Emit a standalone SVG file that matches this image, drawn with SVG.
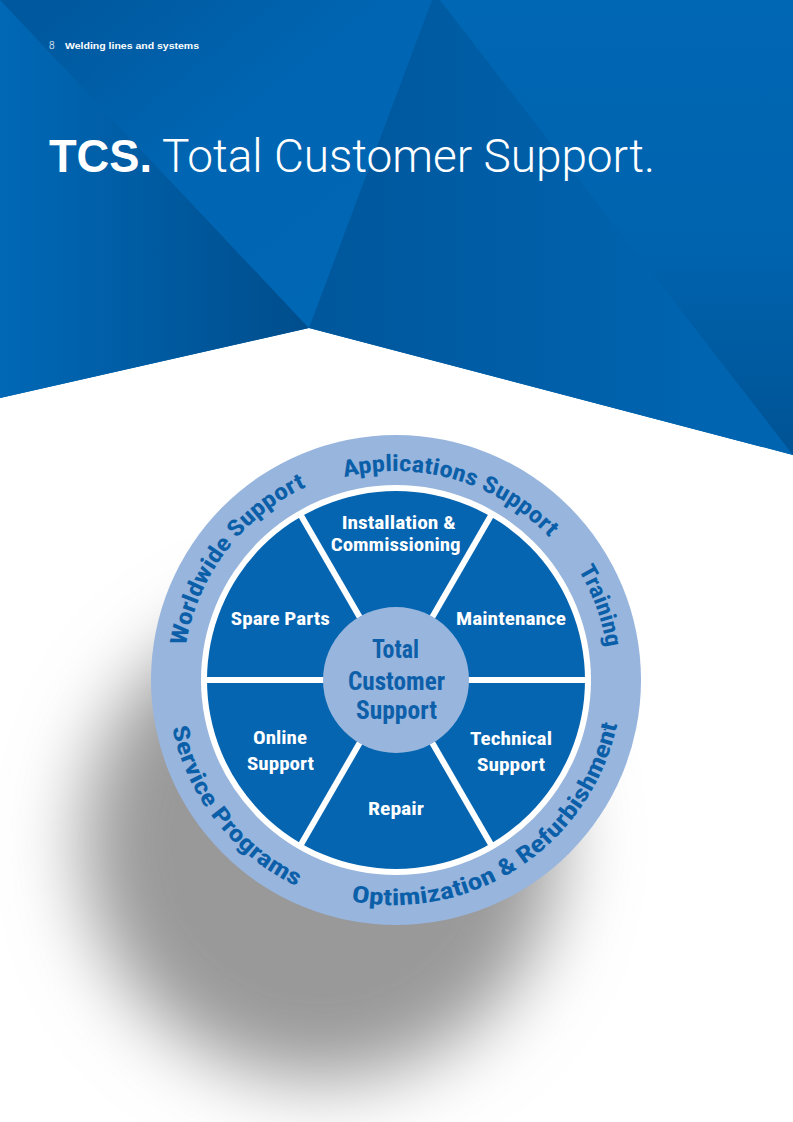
<svg xmlns="http://www.w3.org/2000/svg" width="793" height="1122" viewBox="0 0 793 1122">
  <defs>
    <linearGradient id="gL" x1="0" y1="0" x2="300" y2="0" gradientUnits="userSpaceOnUse">
      <stop offset="0" stop-color="#0068b6"/>
      <stop offset="1" stop-color="#004e8d"/>
    </linearGradient>
    <linearGradient id="gM" x1="80" y1="0" x2="320" y2="300" gradientUnits="userSpaceOnUse">
      <stop offset="0" stop-color="#00599f"/>
      <stop offset="0.5" stop-color="#0065b2"/>
      <stop offset="1" stop-color="#0067b5"/>
    </linearGradient>
    <linearGradient id="gR1" x1="320" y1="0" x2="700" y2="0" gradientUnits="userSpaceOnUse">
      <stop offset="0" stop-color="#00579c"/>
      <stop offset="1" stop-color="#0064b0"/>
    </linearGradient>
    <linearGradient id="gR2" x1="0" y1="0" x2="0" y2="455" gradientUnits="userSpaceOnUse">
      <stop offset="0" stop-color="#0067b4"/>
      <stop offset="0.55" stop-color="#0063ae"/>
      <stop offset="1" stop-color="#005394"/>
    </linearGradient>
    <filter id="blur" x="-50%" y="-50%" width="200%" height="200%">
      <feGaussianBlur stdDeviation="38"/>
    </filter>
    <path id="pApp" d="M191.7,619.9 A213,213 0 0 1 600.3,740.1"/>
    <path id="pTrain" d="M323.5,479.7 A213,213 0 0 1 468.5,880.3"/>
    <path id="pWorld" d="M267.5,849.9 A213,213 0 0 1 524.5,510.1"/>
    <path id="pServ" d="M254.4,500 A229,229 0 0 0 537.6,860"/>
    <path id="pOpt" d="M205.3,806.7 A229,229 0 0 0 586.7,553.3"/>
  </defs>
  <style>
    .sec { font-family: 'Liberation Sans Narrow', 'Roboto Condensed', 'Liberation Sans', Arial, sans-serif; font-weight: bold; font-size: 19px; fill: #ffffff; text-anchor: middle; }
    .ctr { font-family: 'Liberation Sans Narrow', 'Roboto Condensed', 'Liberation Sans', Arial, sans-serif; font-weight: bold; font-size: 25px; fill: #0d5fa9; text-anchor: middle; }
    .ring { font-family: 'Liberation Sans Narrow', 'Roboto Condensed', 'Liberation Sans', Arial, sans-serif; font-weight: bold; font-size: 23px; fill: #0b5fa9; }
    .div { stroke: #ffffff; stroke-width: 6; }
  </style>

  <!-- background -->
  <rect x="0" y="0" width="793" height="1122" fill="#ffffff"/>
  <g id="background">
    <polygon points="0,0 793,0 793,455 309,328 0,398" fill="#0065b1"/>
    <polygon points="0,0 0,398 309,328" fill="url(#gL)"/>
    <polygon points="0,0 309,328 432,0" fill="url(#gM)"/>
    <polygon points="432,0 440,0 793,455 309,328" fill="url(#gR1)"/>
    <polygon points="440,0 793,0 793,455" fill="url(#gR2)"/>
  </g>

  <!-- header -->
  <g id="header">
    <text x="49" y="49" font-family="Roboto, 'Liberation Sans', sans-serif" font-weight="300" font-size="10" fill="#ffffff">8</text>
    <text x="65" y="48.5" font-family="'Liberation Sans', Arial, sans-serif" font-weight="bold" font-size="8.6" fill="#ffffff" textLength="134" lengthAdjust="spacingAndGlyphs">Welding lines and systems</text>
    <text x="49" y="172" font-family="'Liberation Sans', Arial, sans-serif" font-weight="bold" font-size="46" fill="#ffffff" textLength="103" lengthAdjust="spacingAndGlyphs">TCS.</text>
    <text x="162" y="172" font-family="Roboto, Lato, 'Liberation Sans', sans-serif" font-weight="300" font-size="46" fill="#ffffff" textLength="493" lengthAdjust="spacingAndGlyphs">Total Customer Support.</text>
  </g>

  <!-- shadow -->
  <circle cx="321" cy="842" r="238" fill="#9a999a" filter="url(#blur)"/>

  <!-- wheel -->
  <g id="outer-ring">
    <circle cx="396" cy="680" r="245" fill="#97b5dd"/>
    <circle cx="396" cy="680" r="195" fill="#ffffff"/>
    <circle cx="396" cy="680" r="189" fill="#0565b1"/>
  </g>

  <g id="connectors">
    <line class="div" x1="206" y1="680" x2="586" y2="680"/>
    <line class="div" x1="301" y1="515.5" x2="491" y2="844.5"/>
    <line class="div" x1="491" y1="515.5" x2="301" y2="844.5"/>
  </g>

  <g id="center">
    <circle cx="396" cy="680" r="73" fill="#97b5dd"/>
    <text class="ctr" x="395.5" y="658" textLength="47" lengthAdjust="spacingAndGlyphs">Total</text>
    <text class="ctr" x="396.5" y="690" textLength="97" lengthAdjust="spacingAndGlyphs">Customer</text>
    <text class="ctr" x="396.5" y="719" textLength="81" lengthAdjust="spacingAndGlyphs">Support</text>
  </g>

  <g id="installation">
    <text class="sec" x="398.7" y="528.5" textLength="114" lengthAdjust="spacingAndGlyphs">Installation &amp;</text>
    <text class="sec" x="395.7" y="550.5" textLength="130" lengthAdjust="spacingAndGlyphs">Commissioning</text>
  </g>
  <g id="spare-parts">
    <text class="sec" x="280.3" y="625" textLength="99" lengthAdjust="spacingAndGlyphs">Spare Parts</text>
  </g>
  <g id="maintenance">
    <text class="sec" x="511" y="624.5" textLength="110" lengthAdjust="spacingAndGlyphs">Maintenance</text>
  </g>
  <g id="online-support">
    <text class="sec" x="280" y="744" textLength="54" lengthAdjust="spacingAndGlyphs">Online</text>
    <text class="sec" x="280.5" y="770" textLength="67" lengthAdjust="spacingAndGlyphs">Support</text>
  </g>
  <g id="technical-support">
    <text class="sec" x="511" y="745" textLength="82" lengthAdjust="spacingAndGlyphs">Technical</text>
    <text class="sec" x="511" y="771" textLength="68" lengthAdjust="spacingAndGlyphs">Support</text>
  </g>
  <g id="repair">
    <text class="sec" x="396" y="815" textLength="56" lengthAdjust="spacingAndGlyphs">Repair</text>
  </g>

  <g id="applications-support">
    <text class="ring"><textPath href="#pApp" startOffset="50%" text-anchor="middle" textLength="224" lengthAdjust="spacingAndGlyphs">Applications Support</textPath></text>
  </g>
  <g id="training">
    <text class="ring"><textPath href="#pTrain" startOffset="50%" text-anchor="middle" textLength="83" lengthAdjust="spacingAndGlyphs">Training</textPath></text>
  </g>
  <g id="worldwide-support">
    <text class="ring"><textPath href="#pWorld" startOffset="50%" text-anchor="middle" textLength="208" lengthAdjust="spacingAndGlyphs">Worldwide Support</textPath></text>
  </g>
  <g id="service-programs">
    <text class="ring"><textPath href="#pServ" startOffset="50%" text-anchor="middle" textLength="209" lengthAdjust="spacingAndGlyphs">Service Programs</textPath></text>
  </g>
  <g id="optimization">
    <text class="ring"><textPath href="#pOpt" startOffset="50%" text-anchor="middle" textLength="354" lengthAdjust="spacingAndGlyphs">Optimization &amp; Refurbishment</textPath></text>
  </g>
</svg>
